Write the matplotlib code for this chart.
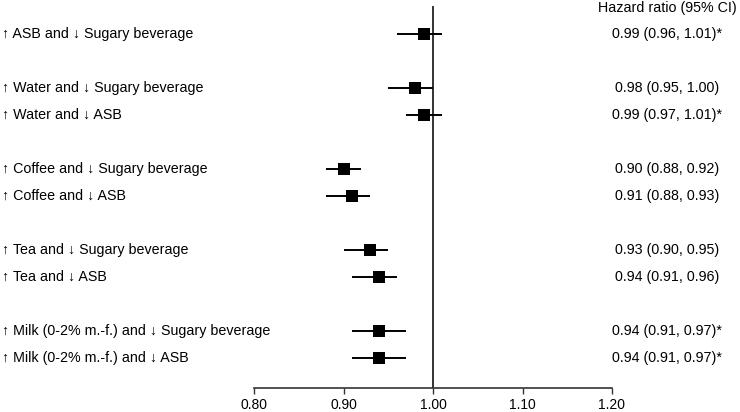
import matplotlib
matplotlib.use("Agg")
import matplotlib.pyplot as plt

plt.rcParams['font.family'] = ['Liberation Sans', 'DejaVu Sans']

labels = [
    "↑ ASB and ↓ Sugary beverage",
    "↑ Water and ↓ Sugary beverage",
    "↑ Water and ↓ ASB",
    "↑ Coffee and ↓ Sugary beverage",
    "↑ Coffee and ↓ ASB",
    "↑ Tea and ↓ Sugary beverage",
    "↑ Tea and ↓ ASB",
    "↑ Milk (0-2% m.-f.) and ↓ Sugary beverage",
    "↑ Milk (0-2% m.-f.) and ↓ ASB",
]
hr = [0.99, 0.98, 0.99, 0.90, 0.91, 0.93, 0.94, 0.94, 0.94]
lo = [0.96, 0.95, 0.97, 0.88, 0.88, 0.90, 0.91, 0.91, 0.91]
hi = [1.01, 1.00, 1.01, 0.92, 0.93, 0.95, 0.96, 0.97, 0.97]
ci_text = [
    "0.99 (0.96, 1.01)*",
    "0.98 (0.95, 1.00)",
    "0.99 (0.97, 1.01)*",
    "0.90 (0.88, 0.92)",
    "0.91 (0.88, 0.93)",
    "0.93 (0.90, 0.95)",
    "0.94 (0.91, 0.96)",
    "0.94 (0.91, 0.97)*",
    "0.94 (0.91, 0.97)*",
]
rows = [0, 2, 3, 5, 6, 8, 9, 11, 12]
xticks = [0.80, 0.90, 1.00, 1.10, 1.20]
header = "Hazard ratio (95% CI)"

W, H = 740, 412
fig = plt.figure(figsize=(W / 100, H / 100), dpi=100)
ax_left, ax_right = 254 / W, 612 / W
ax_bottom = (H - 388) / H
ax = fig.add_axes([ax_left, ax_bottom, ax_right - ax_left, 1 - ax_bottom])

ax.set_xlim(0.80, 1.20)
y_top = -34 / 27
y_bot = (388 - 34) / 27
ax.set_ylim(y_bot, y_top)

for r, h, l, u in zip(rows, hr, lo, hi):
    ax.plot([l, u], [r, r], color='black', lw=1.4, solid_capstyle='butt', zorder=2)
ax.scatter(hr, rows, marker='s', s=68, color='black', zorder=3, linewidths=0)

ax.plot([1.0, 1.0], [y_bot, (7 - 34) / 27], color='#333333', lw=1.4, zorder=1)

for s in ['top', 'right', 'left']:
    ax.spines[s].set_visible(False)
ax.spines['bottom'].set_color('#333333')
ax.spines['bottom'].set_linewidth(1.2)
ax.set_yticks([])
ax.set_xticks(xticks)
ax.set_xticklabels([f"{v:.2f}" for v in xticks], fontsize=10)
ax.tick_params(axis='x', direction='out', length=4, width=1.0, color='#333333', pad=3.5)

fs = 10.3
for r, lab, t in zip(rows, labels, ci_text):
    fig.text(2 / W, 1 - (34 + 27 * r) / H, lab, ha='left', va='center', fontsize=fs)
    fig.text(667 / W, 1 - (34 + 27 * r) / H, t, ha='center', va='center', fontsize=fs)
fig.text(667 / W, 1 - 8 / H, header, ha='center', va='center', fontsize=fs)

fig.savefig("out.png", dpi=100)
